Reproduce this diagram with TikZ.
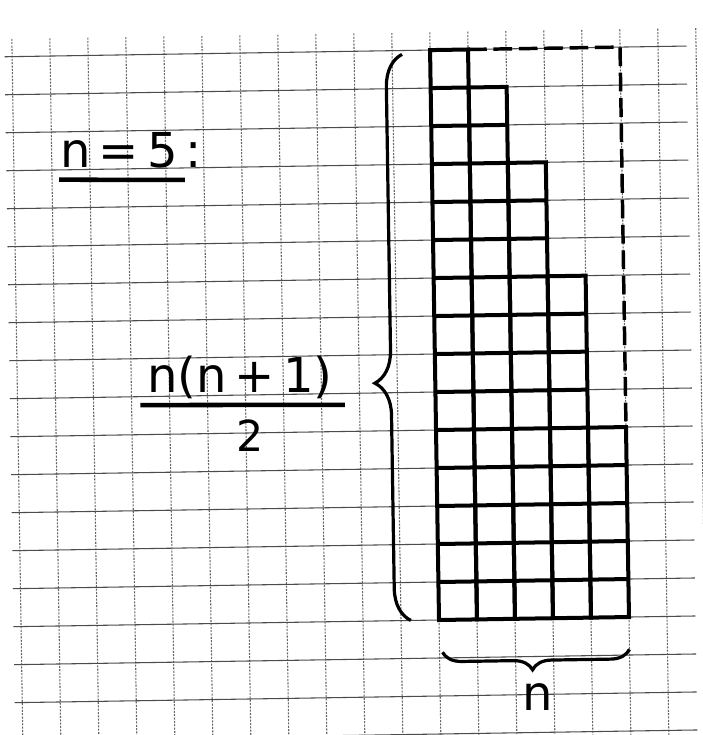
\documentclass[tikz,border=0pt]{standalone}
\usepackage{fontspec}
\newfontfamily\handfont{DejaVu Sans}
\usetikzlibrary{decorations.pathreplacing}

\begin{document}
\begin{tikzpicture}[
  x=1cm,y=1cm,
  paperh/.style={black!70,line width=0.8pt},
  paperv/.style={black!60,line width=0.8pt,dash pattern=on 1.5pt off 1pt},
  stair/.style={line width=3pt,line cap=rect},
  openedge/.style={line width=2.6pt,dash pattern=on 14pt off 5pt},
  brc/.style={line width=2.4pt,decorate},
  uline/.style={line width=3.4pt},
  hand/.style={inner sep=1pt,font=\handfont\fontsize{36}{44}\selectfont},
]
\useasboundingbox (-11.553,-3.026) rectangle (6.921,16.316);
\fill[white] (-11.553,-3.026) rectangle (6.921,16.316);
\begin{scope}[rotate=0.9]
% squared paper
\foreach \i in {-11,...,7}
  \draw[paperv] (\i,-3.3) -- (\i,15.5);
\foreach \j in {-3,...,15}
  \draw[paperh] (-11.2,\j) -- (6.75,\j);
% staircase: columns of 15, 14, 12, 9, 5 squares
\foreach \c/\h in {0/15,1/14,2/12,3/9,4/5}
  \draw[stair] (\c,0) grid (\c+1,\h);
\draw[openedge] (1,15) -- (5,15) -- (5,5);
% braces
\coordinate (hbot) at (-0.74,0);
\coordinate (htop) at (-0.74,14.9);
\draw[brc,decoration={brace,amplitude=0.85cm,aspect=0.42}] (hbot) -- (htop);
\coordinate (wleft) at (0.08,-0.85);
\coordinate (wright) at (5,-0.85);
\draw[brc,decoration={brace,mirror,amplitude=0.5cm,aspect=0.48}] (wleft) -- (wright);
% labels
\node[hand,anchor=base] (case) at (-7.91,12.03) {n\,=\,5\,:};
\draw[uline] ([yshift=-9pt]case.base west) -- ([xshift=-0.5cm,yshift=-9pt]case.base east);
\node[hand,anchor=base] (num) at (-5.15,6.08) {n(n\,+\,1)};
\draw[uline] ([xshift=-4pt,yshift=-0.34cm]num.base west) -- ([xshift=8pt,yshift=-0.34cm]num.base east);
\node[hand,font=\handfont\fontsize{32}{40}\selectfont,anchor=base] (den) at (-4.90,4.50) {2};
\node[hand,anchor=base] (width) at (2.56,-2.41) {n};
\end{scope}
\end{tikzpicture}
\end{document}
